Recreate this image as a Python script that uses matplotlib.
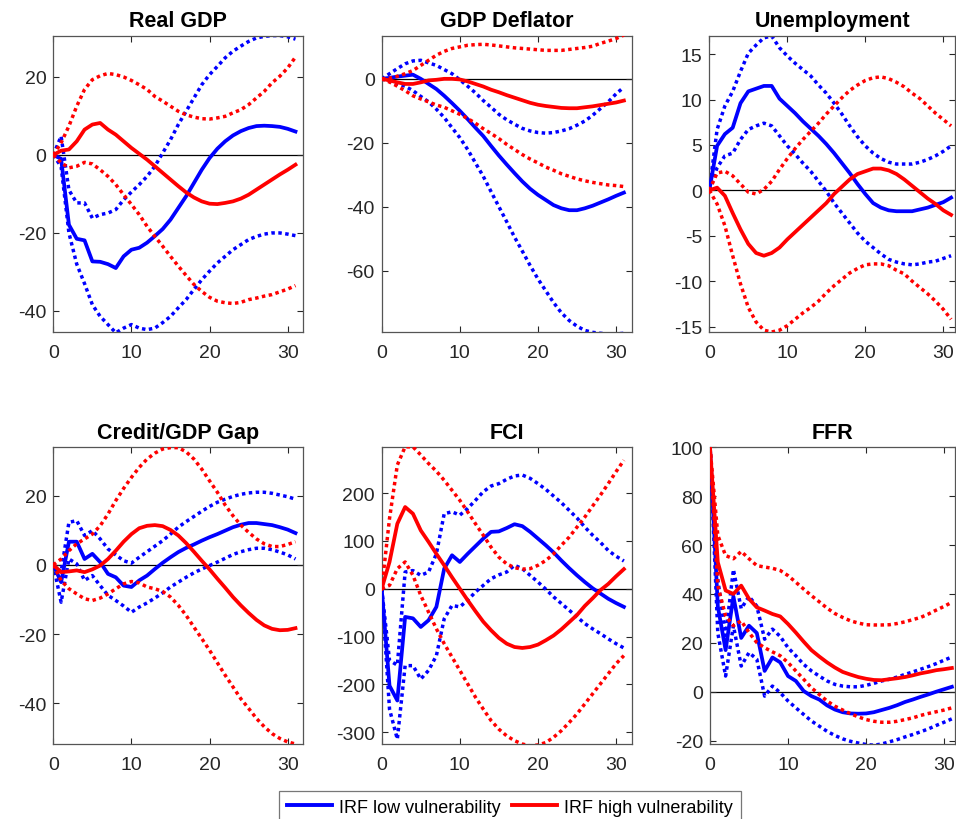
import numpy as np
import matplotlib
matplotlib.use('Agg')
import matplotlib.pyplot as plt
from matplotlib.lines import Line2D

plt.rcParams['font.family'] = ['Liberation Sans', 'DejaVu Sans']
plt.rcParams['axes.unicode_minus'] = False

# horizon (quarters)
horizon = list(range(32))

# ------------------------------------------------------------
# Real GDP
# ------------------------------------------------------------
gdp_low = [0, -1, -17.9, -21.5, -21.9, -27.3, -27.4, -28, -29, -26, -24.3, -23.8, -22.5, -20.8, -19, -16.6,
           -13.6, -10.6, -7.2, -3.8, -0.8, 1.6, 3.5, 5.0, 6.1, 6.9, 7.4, 7.5, 7.4, 7.2, 6.7, 6.0]
gdp_low_up = [0, 4.8, -9, -12.3, -12.3, -16.2, -15.3, -14.9, -14, -11.5, -9.5, -7.6, -5.5, -2.9, 0.5, 3.9,
              7.8, 11.2, 14.6, 18, 20.6, 22.7, 24.9, 26.6, 27.9, 29.1, 30, 30.4, 30.6, 30.6, 30.3, 29.7]
gdp_low_lo = [0, -3, -20, -28, -33, -38.4, -41.4, -43.5, -45.6, -44.4, -43.5, -44.4, -44.8, -44.4, -43, -41.4,
              -39.2, -37.1, -34.5, -32, -29.8, -27.7, -26, -24.3, -23, -21.7, -20.9, -20.3, -20, -20, -20.3, -20.7]
gdp_high = [0, 1.1, 1.4, 3.5, 6.5, 7.8, 8.2, 6.5, 5.2, 3.5, 1.8, 0.3, -1.2, -2.9, -4.6, -6.3,
            -8, -9.6, -10.9, -11.9, -12.5, -12.6, -12.3, -11.9, -11.2, -10.2, -8.9, -7.6, -6.3, -5, -3.8, -2.5]
gdp_high_up = [0, 3.1, 7.4, 12.5, 16.8, 19.3, 20.3, 20.9, 20.6, 20, 19.1, 18, 16.8, 15, 13.8, 12.5,
               11.2, 10.3, 9.7, 9.3, 9.2, 9.5, 9.9, 10.8, 11.6, 12.9, 14.6, 16.3, 18.5, 20.2, 22.3, 25.1]
gdp_high_lo = [0, -2, -3.3, -2.9, -1.9, -2.3, -3.8, -5.5, -7.6, -10.2, -12.7, -15.3, -18.3, -20.9, -23.4, -26,
               -28.5, -30.9, -33.2, -35, -36.5, -37.5, -37.9, -38.1, -37.8, -37.1, -36.7, -36.2, -35.8, -35.1, -34.4, -33.5]

# ------------------------------------------------------------
# GDP Deflator
# ------------------------------------------------------------
defl_low = [0, 0.3, 0.7, 1, 1.3, 0, -1.6, -3.2, -5.3, -7.6, -10, -12.6, -15.3, -17.9, -21, -24,
            -26.8, -29.5, -32.1, -34.4, -36.3, -37.9, -39.5, -40.5, -41.1, -41.1, -40.5, -39.7, -38.7, -37.7, -36.6, -35.6]
defl_low_up = [0, 1.6, 3.2, 4.7, 5.6, 5.8, 5, 4.2, 2.9, 1.6, -0.3, -2.3, -4.4, -6.8, -8.9, -11.1,
               -12.8, -14.2, -15.5, -16.3, -16.8, -17, -16.8, -16.3, -15.6, -14.5, -13.2, -11.4, -9.3, -7.2, -4.7, -2.6]
defl_low_lo = [0, -0.8, -1.6, -2.3, -3.7, -5.5, -7.2, -9.5, -12.1, -15.3, -18.4, -22.1, -26.3, -30.5, -35.3, -40,
               -44.7, -49.5, -53.9, -58.4, -62.6, -66.3, -70, -73.2, -75.6, -77.4, -78.7, -79.3, -79.6, -79.8, -79.8, -79.6]
defl_high = [0, -0.5, -1.1, -1.6, -1.6, -1.1, -0.5, -0.3, 0, 0, -0.2, -0.8, -1.6, -2.4, -3.4, -4.2,
             -5.1, -5.9, -6.7, -7.5, -8.1, -8.5, -8.8, -9.1, -9.2, -9.2, -8.9, -8.6, -8.2, -7.8, -7.4, -6.8]
defl_high_up = [0, 0.2, 0.8, 1.6, 2.6, 4.2, 5.8, 7.4, 8.6, 9.5, 10, 10.5, 10.7, 10.8, 10.6, 10.3,
                10, 9.7, 9.5, 9.3, 9.1, 8.9, 8.9, 8.9, 9.2, 9.5, 9.8, 10.2, 11.1, 11.8, 12.6, 13.7]
defl_high_lo = [0, -1, -2.3, -3.7, -5.3, -6.3, -7.2, -8.2, -8.9, -10, -11.1, -12.4, -13.9, -15.6, -17.1, -18.7,
                -20.5, -22.1, -23.7, -25.1, -26.3, -27.6, -28.6, -29.7, -30.5, -31.3, -31.9, -32.4, -32.8, -33.2, -33.4, -33.7]

# ------------------------------------------------------------
# Unemployment
# ------------------------------------------------------------
unemp_low = [0, 4.9, 6.2, 6.9, 9.6, 10.9, 11.2, 11.5, 11.5, 10.1, 9.3, 8.5, 7.6, 6.8, 6, 5.1,
             4.1, 3, 1.9, 0.7, -0.4, -1.4, -1.9, -2.2, -2.3, -2.3, -2.3, -2.1, -1.9, -1.6, -1.3, -0.8]
unemp_low_up = [0, 6.7, 9.3, 10.9, 13.1, 15.1, 16, 16.8, 17, 15.7, 14.8, 14, 13.3, 12.6, 11.6, 10.7,
                9.6, 8.4, 7.1, 5.9, 4.9, 4.1, 3.5, 3.1, 2.9, 2.9, 2.9, 3.1, 3.4, 3.8, 4.3, 4.9]
unemp_low_lo = [0, 2.5, 3.8, 4.1, 5.6, 6.7, 7.1, 7.4, 7.1, 6, 4.9, 4, 3, 2.1, 1, -0.1,
                -1.4, -2.5, -3.6, -4.7, -5.6, -6.3, -7, -7.6, -7.9, -8.1, -8.2, -8.1, -7.9, -7.8, -7.5, -7.2]
unemp_high = [0, 0.3, -0.6, -2.5, -4.3, -5.9, -6.9, -7.2, -6.9, -6.3, -5.4, -4.6, -3.8, -3, -2.2, -1.4,
              -0.4, 0.4, 1.2, 1.8, 2.1, 2.4, 2.4, 2.2, 1.8, 1.2, 0.5, -0.2, -0.9, -1.5, -2.2, -2.7]
unemp_high_up = [0, 1.9, 2.1, 1.6, 0.7, -0.2, -0.4, 0.1, 1, 2.3, 3.5, 4.6, 5.6, 6.5, 7.4, 8.4,
                 9.3, 10.2, 11, 11.6, 12.1, 12.4, 12.5, 12.3, 11.9, 11.4, 10.7, 10.1, 9.3, 8.5, 7.8, 7.1]
unemp_high_lo = [0, -1.5, -3.9, -7.2, -10.3, -12.9, -14.5, -15.4, -15.6, -15.4, -14.9, -14.2, -13.5, -12.9, -12.2, -11.3,
                 -10.5, -9.8, -9.1, -8.6, -8.2, -8.1, -8.1, -8.3, -8.8, -9.2, -10, -10.7, -11.4, -12.2, -13.1, -14.2]

# ------------------------------------------------------------
# Credit/GDP Gap
# ------------------------------------------------------------
credit_low = [0, -5, 6.7, 6.7, 1.7, 3.2, 0.8, -2.6, -3.6, -6, -6.4, -4.5, -3.1, -1.2, 0.6, 2.2,
              3.7, 4.9, 5.9, 7, 8, 8.9, 9.9, 10.9, 11.6, 12.1, 12.1, 11.8, 11.5, 10.9, 10.2, 9.2]
credit_low_up = [0, -2, 12.3, 12.8, 8.5, 9.9, 7.5, 4.6, 2.9, 1.2, 0.5, 2.2, 3.8, 5.4, 7, 8.9,
                 10.9, 12.5, 14, 15.5, 16.9, 18.1, 19, 19.8, 20.4, 20.8, 21, 21, 20.7, 20.2, 19.7, 19]
credit_low_lo = [0, -10.8, 1.7, 0.3, -4.5, -3.1, -6, -8.8, -10.3, -11.9, -13.7, -12.2, -11, -9.6, -8.1, -6.4,
                 -5, -3.6, -2.3, -1.2, -0.2, 0.8, 1.9, 3, 3.8, 4.4, 4.8, 4.8, 4.4, 3.7, 2.9, 1.7]
credit_high = [0, -2.1, -1.9, -1.6, -2.1, -1.3, -0.2, 1.7, 4.1, 6.7, 8.9, 10.6, 11.3, 11.5, 11.2, 10.1,
               8.5, 6.3, 3.8, 1.2, -1.3, -4, -6.6, -9.3, -11.7, -13.9, -15.9, -17.5, -18.5, -18.9, -18.8, -18.3]
credit_high_up = [0, 1.7, 4.1, 6.1, 7.5, 8.9, 11.3, 14.7, 18.6, 22.1, 25.3, 28.2, 30.6, 32.3, 33.5, 33.9,
                  33.9, 32.7, 30.6, 27.7, 24.3, 21, 17.3, 14.2, 11.5, 9.4, 7.5, 6.1, 5.3, 5.3, 5.9, 6.7]
credit_high_lo = [0, -4.5, -6.9, -8.4, -9.8, -10.3, -9.6, -8.4, -6.9, -5.5, -4.8, -5.2, -6.4, -6.9, -7.7, -9.3,
                  -11.7, -14.6, -18, -21.3, -24.7, -28.3, -31.9, -35.3, -38.7, -41.5, -44.4, -46.8, -48.8, -50.2, -51.2, -51.8]

# ------------------------------------------------------------
# FCI
# ------------------------------------------------------------
fci_low = [0, -203, -234, -59, -62, -80, -66, -38, 42, 70, 56, 73, 89, 105, 119, 120,
           127, 135, 131, 119, 105, 91, 76, 59, 43, 28, 14, 1, -10, -21, -30, -38]
fci_low_up = [0, -150, -160, 35, 38, 28, 35, 73, 157, 161, 154, 168, 185, 203, 215, 220,
              229, 236, 238, 231, 220, 208, 194, 180, 164, 148, 129, 112, 97, 80, 68, 58]
fci_low_lo = [0, -252, -315, -161, -161, -189, -171, -140, -63, -35, -38, -24, -7, 7, 21, 29,
              35, 49, 42, 28, 14, -1, -17, -31, -45, -59, -73, -84, -94, -105, -115, -124]
fci_high = [0, 56, 136, 171, 157, 122, 98, 73, 49, 24, 0, -24, -47, -69, -87, -103,
            -115, -122, -124, -122, -117, -108, -98, -85, -70, -55, -36, -20, -3, 10, 26, 41]
fci_high_up = [0, 147, 259, 297, 297, 280, 262, 246, 227, 206, 185, 161, 136, 112, 87, 66,
               52, 44, 41, 42, 49, 59, 73, 91, 108, 129, 150, 173, 196, 220, 245, 269]
fci_high_lo = [0, 7, 42, 56, 28, -14, -49, -84, -115, -143, -171, -199, -227, -252, -276, -294,
               -308, -318, -325, -329, -327, -322, -311, -297, -280, -262, -241, -220, -199, -178, -157, -140]

# ------------------------------------------------------------
# FFR
# ------------------------------------------------------------
ffr_low = [100, 35, 17, 39, 22, 27, 24, 8.5, 14, 12, 6.4, 4.4, 0.3, -1.8, -3.2, -5.6,
           -7.3, -8.4, -8.9, -9, -8.9, -8.4, -7.5, -6.6, -5.5, -4.2, -3.2, -2.1, -1.1, 0, 1, 2]
ffr_low_up = [100, 46, 23, 50, 34, 39, 35, 21.5, 25.6, 22.6, 18, 14.7, 11.2, 8.5, 6.4, 4.4,
              3, 2.3, 2, 2, 2.6, 3.4, 4.4, 5.1, 6, 7.1, 8.1, 9.2, 10.3, 11.5, 12.9, 14.2]
ffr_low_lo = [100, 24, 6.4, 27, 10.5, 16, 13.3, -1.8, 2.3, -0.4, -3.8, -6.6, -9.3, -12, -14.1, -16.2,
              -17.9, -19.3, -20.3, -21, -21.6, -21.9, -21.4, -20.5, -19.6, -18.5, -17.5, -16.4, -15.2, -13.8, -12.5, -11.1]
ffr_high = [100, 53, 41.4, 40, 43.4, 38, 34.5, 33.2, 31.8, 30.8, 27.7, 24.2, 20.5, 17, 14.4, 12,
            9.9, 8.1, 7, 6, 5.3, 4.8, 4.7, 5.1, 5.5, 6, 6.7, 7.5, 8.1, 8.8, 9.2, 9.7]
ffr_high_up = [100, 64, 55.7, 54.4, 57.4, 54.4, 51.6, 51, 50.5, 49.6, 47.5, 44.8, 42, 39.3, 36.8, 34.2,
               32, 30.4, 29, 28.1, 27.4, 27.3, 27.3, 27.4, 27.9, 28.6, 29.5, 30.4, 31.8, 33.4, 34.9, 36.6]
ffr_high_lo = [100, 43.4, 31, 27, 29, 24.2, 20.1, 18, 16.3, 14.7, 11.9, 8.5, 5.1, 1.6, -1.1, -3.8,
               -5.9, -7.5, -9, -10.3, -11.4, -12.1, -12.5, -12.5, -12.1, -11.4, -10.7, -9.7, -8.9, -8.2, -7.5, -6.6]

titles = ['Real GDP', 'GDP Deflator', 'Unemployment', 'Credit/GDP Gap', 'FCI', 'FFR']
series = [
    (gdp_low, gdp_low_up, gdp_low_lo, gdp_high, gdp_high_up, gdp_high_lo),
    (defl_low, defl_low_up, defl_low_lo, defl_high, defl_high_up, defl_high_lo),
    (unemp_low, unemp_low_up, unemp_low_lo, unemp_high, unemp_high_up, unemp_high_lo),
    (credit_low, credit_low_up, credit_low_lo, credit_high, credit_high_up, credit_high_lo),
    (fci_low, fci_low_up, fci_low_lo, fci_high, fci_high_up, fci_high_lo),
    (ffr_low, ffr_low_up, ffr_low_lo, ffr_high, ffr_high_up, ffr_high_lo),
]
ylims = [(-45.4, 30.5), (-79.2, 13.4), (-15.6, 17.0), (-51.8, 34.0), (-325, 296), (-21.4, 100)]
yticks = [[-40, -20, 0, 20], [-60, -40, -20, 0], [-15, -10, -5, 0, 5, 10, 15],
          [-40, -20, 0, 20], [-300, -200, -100, 0, 100, 200], [-20, 0, 20, 40, 60, 80, 100]]

# axes boxes in pixels: left, top, right, bottom
W, H = 956, 820
boxes = [(53.3, 37, 303.3, 333), (381.7, 37, 631.7, 333), (709.3, 37, 955, 333),
         (53.3, 448.3, 303.3, 745), (381.7, 448.3, 631.7, 745), (710, 448.3, 955, 745)]
xmax = [32, 32, 31.5, 32, 32, 31.4]

BLUE = '#0000ff'
RED = '#ff0000'
DOT = (0, (1, 1))
GRAY = '#262626'

fig = plt.figure(figsize=(W / 100, H / 100), dpi=100)

for i, (l, t, r, b) in enumerate(boxes):
    ax = fig.add_axes([l / W, 1 - b / H, (r - l) / W, (b - t) / H])
    low, low_up, low_lo, high, high_up, high_lo = series[i]

    ax.axhline(0, color='black', linewidth=0.9, zorder=1)
    ax.plot(horizon, low_up, color=BLUE, linestyle=DOT, linewidth=2.5, zorder=2)
    ax.plot(horizon, low_lo, color=BLUE, linestyle=DOT, linewidth=2.5, zorder=2)
    ax.plot(horizon, low, color=BLUE, linewidth=2.7, zorder=3)
    ax.plot(horizon, high_up, color=RED, linestyle=DOT, linewidth=2.5, zorder=4)
    ax.plot(horizon, high_lo, color=RED, linestyle=DOT, linewidth=2.5, zorder=4)
    ax.plot(horizon, high, color=RED, linewidth=2.7, zorder=5)

    ax.set_xlim(0, xmax[i])
    ax.set_ylim(*ylims[i])
    ax.set_xticks([0, 10, 20, 30])
    ax.set_yticks(yticks[i])
    ax.set_title(titles[i], fontsize=15.5, fontweight='bold', pad=7)

    ax.tick_params(direction='in', top=True, right=True, length=4, width=0.8,
                   colors=GRAY, labelsize=14, labelcolor=GRAY)
    ax.tick_params(axis='x', pad=9)
    ax.tick_params(axis='y', pad=5)
    for sp in ax.spines.values():
        sp.set_color('#555555')
        sp.set_linewidth(0.9)

handles = [Line2D([], [], color=BLUE, linewidth=2.8),
           Line2D([], [], color=RED, linewidth=2.8)]
leg = fig.legend(handles, ['IRF low vulnerability', 'IRF high vulnerability'],
                 loc='upper center', bbox_to_anchor=(510 / W, 1 - 791.5 / H), ncol=2,
                 fontsize=13, frameon=True, fancybox=False, handlelength=2.5,
                 columnspacing=0.6, handletextpad=0.4, borderpad=0.45, borderaxespad=0)
leg.get_frame().set_edgecolor('#555555')
leg.get_frame().set_linewidth(0.9)

fig.savefig('out.png', dpi=100)
